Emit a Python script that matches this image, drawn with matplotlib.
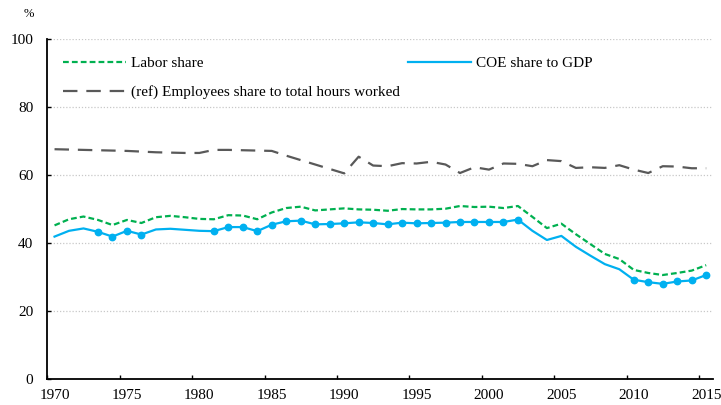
import matplotlib
matplotlib.use("Agg")
import matplotlib.pyplot as plt
from matplotlib.lines import Line2D

years = list(range(1970, 2016))

labor_share = [45.1, 46.9, 47.7, 46.7, 45.2, 46.7, 45.8, 47.5, 47.9, 47.5,
               47.0, 46.9, 48.1, 48.0, 46.9, 48.9, 50.2, 50.6, 49.5, 49.8,
               50.1, 49.8, 49.7, 49.4, 49.9, 49.8, 49.8, 50.0, 50.8, 50.5,
               50.6, 50.2, 50.8, 47.6, 44.3, 45.6, 42.5, 39.6, 36.7, 35.2,
               32.0, 31.1, 30.5, 31.1, 31.8, 33.4]

coe_share = [41.8, 43.5, 44.2, 43.2, 41.8, 43.5, 42.4, 43.9, 44.1, 43.8,
             43.5, 43.4, 44.6, 44.6, 43.4, 45.3, 46.3, 46.5, 45.4, 45.5,
             45.7, 46.0, 45.8, 45.4, 45.9, 45.7, 45.8, 45.9, 46.1, 46.1,
             46.1, 46.1, 46.8, 43.5, 40.8, 42.0, 38.8, 36.2, 33.7, 32.2,
             29.1, 28.4, 27.9, 28.6, 28.9, 30.5]

coe_marker_years = [1973, 1974, 1975, 1976] + list(range(1981, 2003)) + list(range(2010, 2016))

emp_share = [67.5, 67.4, 67.3, 67.2, 67.1, 67.0, 66.8, 66.6, 66.5, 66.4,
             66.4, 67.3, 67.3, 67.2, 67.1, 67.0, 65.6, 64.3, 63.0, 61.7,
             60.4, 65.3, 62.7, 62.5, 63.4, 63.3, 63.8, 63.0, 60.5, 62.2,
             61.5, 63.3, 63.2, 62.5, 64.3, 64.0, 62.0, 62.2, 62.0, 62.8,
             61.5, 60.5, 62.5, 62.4, 61.9, 61.9]

tick_years = [1970, 1975, 1980, 1985, 1990, 1995, 2000, 2005, 2010, 2015]
y_ticks = [0, 20, 40, 60, 80, 100]

GREEN = "#00B050"
BLUE = "#00B0F0"
GRAY = "#595959"

plt.rcParams['font.family'] = ['Liberation Serif', 'DejaVu Serif']

fig = plt.figure(figsize=(7.21, 4.05), dpi=100)
ax = fig.add_axes([0.0656, 0.0649, 0.9239, 0.8395])

marker_idx = [years.index(y) for y in coe_marker_years]

ax.plot(years, emp_share, color=GRAY, lw=1.6, dashes=(6.5, 4), zorder=3)
ax.plot(years, labor_share, color=GREEN, lw=1.6, dashes=(2.6, 1.4), zorder=4)
ax.plot(years, coe_share, color=BLUE, lw=1.6, marker='o', markersize=4.6,
        markevery=marker_idx, zorder=5)

ax.set_xlim(1969.5, 2015.5)
ax.set_ylim(0, 100)

# category-style axis: tick marks at category boundaries, labels at centres
ax.set_xticks([y - 0.5 for y in tick_years])
ax.set_xticklabels([])
ax.set_xticks(tick_years, minor=True)
ax.set_xticklabels([str(y) for y in tick_years], minor=True, fontsize=11)
ax.tick_params(axis='x', which='major', direction='in', length=3, width=1, color='black')
ax.tick_params(axis='x', which='minor', length=0, pad=7.5)

ax.set_yticks(y_ticks)
ax.set_yticklabels([str(v) for v in y_ticks], fontsize=11)
ax.tick_params(axis='y', direction='in', length=3, width=1, pad=10)

for v in y_ticks[1:]:
    ax.axhline(v, color='#C8C8C8', lw=0.9, ls=(0, (1, 1.5)), zorder=1)

for s in ['top', 'right']:
    ax.spines[s].set_visible(False)
ax.spines['left'].set_linewidth(1.3)
ax.spines['bottom'].set_linewidth(1.3)

handles = [
    Line2D([], [], color=GREEN, lw=1.6, dashes=(2.6, 1.4)),
    Line2D([], [], color=GRAY, lw=1.6, dashes=(6.5, 4)),
    Line2D([], [], color=BLUE, lw=1.6),
]
labels = ["Labor share", "(ref) Employees share to total hours worked", "COE share to GDP"]
ax.legend(handles, labels, ncol=2, loc='upper left', bbox_to_anchor=(0.01, 0.975),
          frameon=False, fontsize=11, handlelength=4.1, handletextpad=0.35,
          columnspacing=0.55, labelspacing=1.0, borderaxespad=0.2)

fig.text(29 / 721, 1 - 14 / 405, "%", fontsize=9, ha='center', va='center')

fig.savefig("out.png", dpi=100)
